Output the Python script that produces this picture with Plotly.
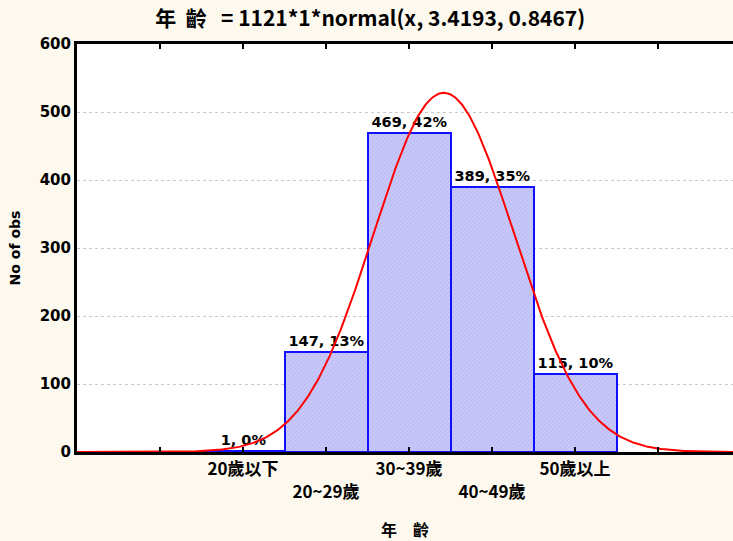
import numpy as np
import plotly.graph_objects as go

categories = ["20歲以下", "20~29歲", "30~39歲", "40~49歲", "50歲以上"]
positions = [1, 2, 3, 4, 5]
counts = [1, 147, 469, 389, 115]
total_n = 1121
fit_mean = 3.4193
fit_sd = 0.8467

pct_labels = [f"{c}, {round(100 * c / total_n):.0f}%" for c in counts]

FONT = "DejaVu Sans, Noto Sans CJK TC, sans-serif"
CJK = "Noto Sans CJK TC, DejaVu Sans, sans-serif"

xs = np.linspace(-1, 6.95, 600)
ys = total_n * 1 * np.exp(-0.5 * ((xs - fit_mean) / fit_sd) ** 2) / (fit_sd * np.sqrt(2 * np.pi))

fig = go.Figure()
fig.add_trace(go.Bar(
    x=positions, y=counts, width=1,
    text=pct_labels, textposition="outside", cliponaxis=False,
    textfont=dict(family=FONT, size=14.5, color="black", weight="bold"),
    marker=dict(color="#c4c4f8", line=dict(color="#1010ff", width=2),
                pattern=dict(shape="/", fgcolor="#a4a4f0", bgcolor="#cacafa", size=3, solidity=0.35)),
    showlegend=False,
))
fig.add_trace(go.Scatter(x=xs, y=ys, mode="lines", line=dict(color="#ff0000", width=2),
                         showlegend=False, hoverinfo="skip"))

ticktext = [""] + [c if i % 2 == 0 else "<br>" + c for i, c in enumerate(categories)] + [""]

fig.update_layout(
    width=733, height=541,
    margin=dict(l=77, r=0, t=44, b=89),
    paper_bgcolor="#fdf9ee", plot_bgcolor="white",
    title=dict(text="年  齡   = 1121*1*normal(x, 3.4193, 0.8467)", x=0.505, xanchor="center",
               y=0.965, yanchor="middle",
               font=dict(family=CJK, size=21, color="black", weight="bold")),
    bargap=0,
    font=dict(family=FONT, color="black"),
)
fig.update_xaxes(
    range=[-1, -1 + 656 / 83], tickvals=[0, 1, 2, 3, 4, 5, 6], ticktext=ticktext,
    ticks="inside", ticklen=5, tickwidth=2, tickcolor="black",
    showline=True, linecolor="black", linewidth=3, mirror="allticks",
    showgrid=False, zeroline=False,
    tickfont=dict(family=CJK, size=17, color="black", weight="bold"),
    title=dict(text="年　齡", standoff=24, font=dict(family=CJK, size=16, color="black", weight="bold")),
)
fig.update_yaxes(
    range=[0, 600], dtick=100,
    showline=True, linecolor="black", linewidth=3,
    showgrid=True, gridcolor="#c8c8c8", griddash="dot", gridwidth=1,
    zeroline=False, ticks="",
    tickfont=dict(family=FONT, size=15, color="black", weight="bold"),
    title=dict(text="No of obs", standoff=16, font=dict(family=FONT, size=14, color="black", weight="bold")),
)

fig.write_html("out.html")
